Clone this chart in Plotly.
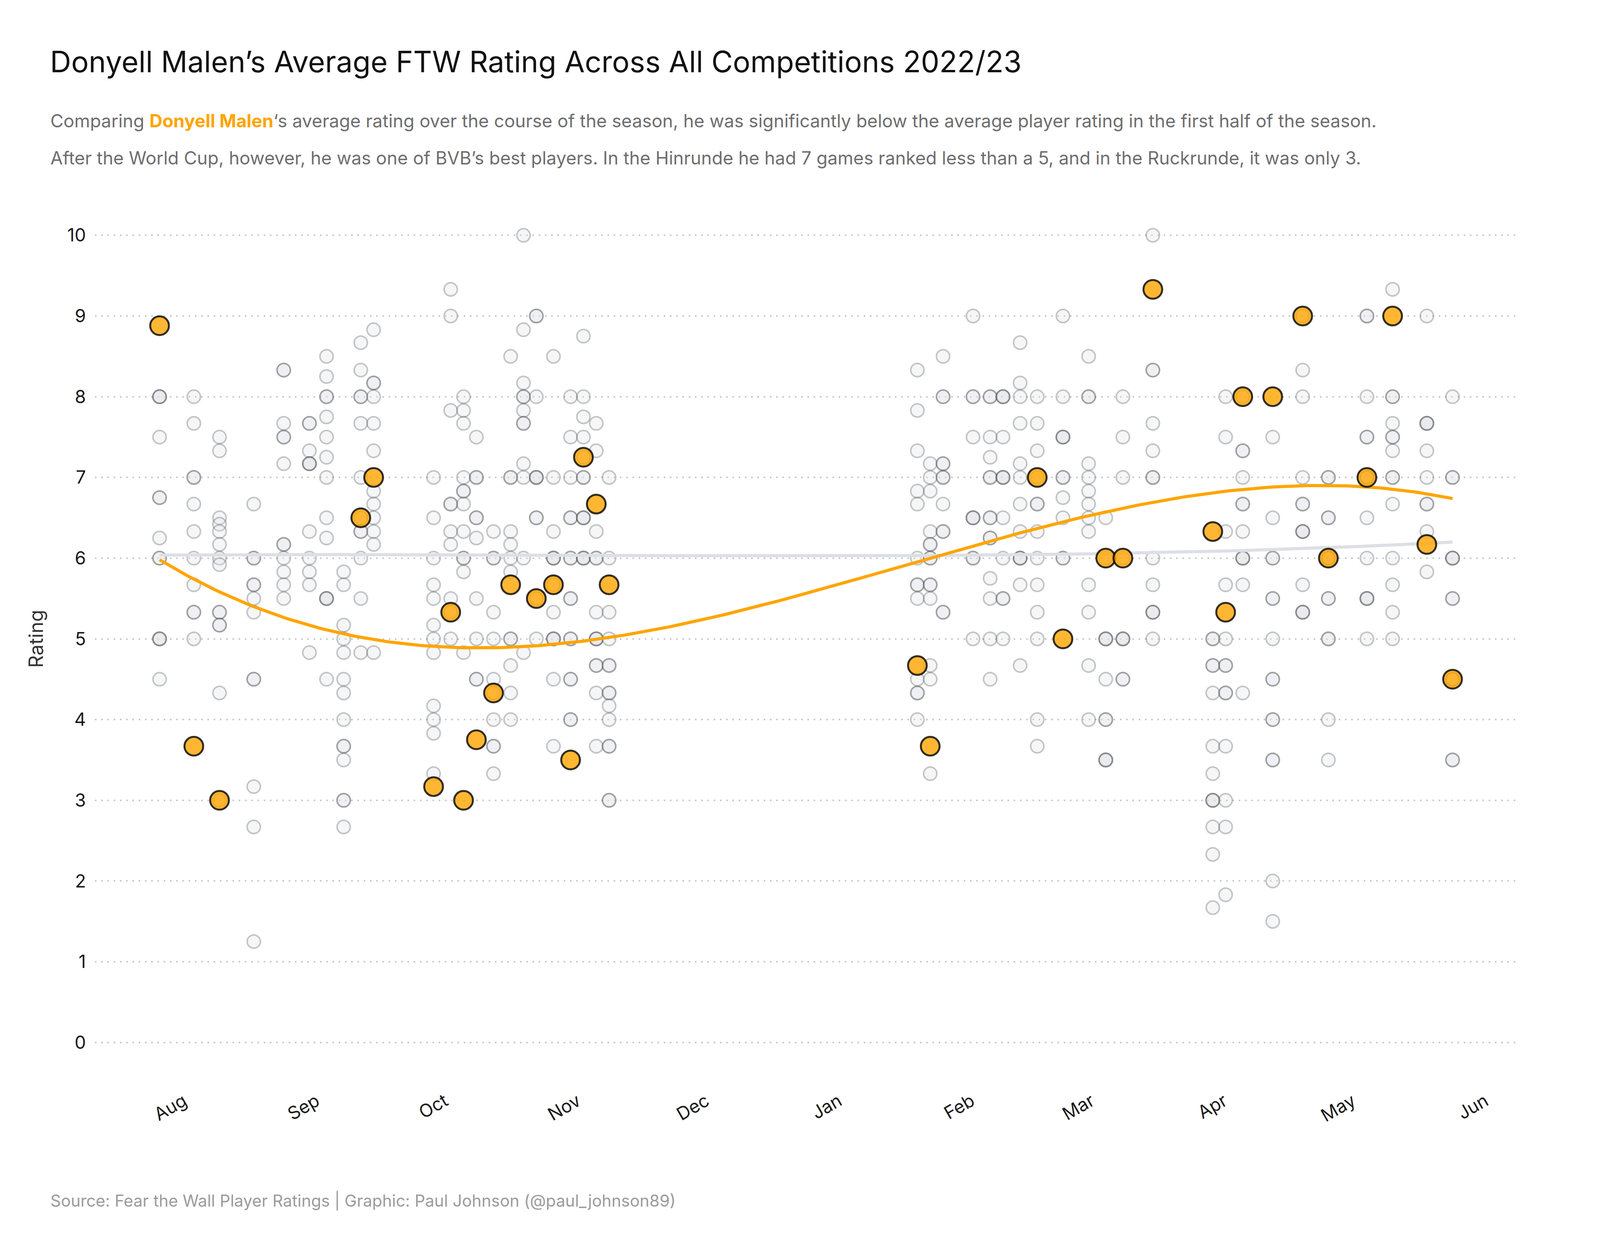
import numpy as np
import pandas as pd
import plotly.graph_objects as go

# match days (every BVB game with ratings), each with the ratings of the other players
match_dates = [
    "2022-07-29", "2022-08-06", "2022-08-12", "2022-08-20", "2022-08-27", "2022-09-02",
    "2022-09-06", "2022-09-10", "2022-09-14", "2022-09-17", "2022-10-01", "2022-10-05",
    "2022-10-08", "2022-10-11", "2022-10-15", "2022-10-19", "2022-10-22", "2022-10-25",
    "2022-10-29", "2022-11-02", "2022-11-05", "2022-11-08", "2022-11-11",
    "2023-01-22", "2023-01-25", "2023-01-28", "2023-02-04", "2023-02-08", "2023-02-11",
    "2023-02-15", "2023-02-19", "2023-02-25", "2023-03-03", "2023-03-07", "2023-03-11",
    "2023-03-18", "2023-04-01", "2023-04-04", "2023-04-08", "2023-04-15", "2023-04-22",
    "2023-04-28", "2023-05-07", "2023-05-13", "2023-05-21", "2023-05-27",
]

player_ratings = [
    [8.0, 8.0, 8.0, 7.5, 6.75, 6.75, 6.25, 6.0, 6.0, 5.0, 5.0, 5.0, 4.5],
    [8.0, 7.67, 7.0, 7.0, 6.67, 6.33, 6.0, 5.67, 5.33, 5.33, 5.0],
    [7.5, 7.33, 6.5, 6.42, 6.33, 6.17, 6.0, 5.92, 5.33, 5.33, 5.17, 5.17, 4.33, 3.0],
    [6.67, 6.0, 6.0, 5.67, 5.67, 5.5, 5.33, 4.5, 4.5, 3.17, 2.67, 1.25],
    [8.33, 8.33, 7.67, 7.5, 7.5, 7.17, 6.17, 6.17, 6.0, 5.83, 5.67, 5.5],
    [7.67, 7.67, 7.33, 7.17, 7.17, 7.17, 6.33, 6.0, 5.83, 5.67, 4.83],
    [8.5, 8.25, 8.0, 8.0, 7.75, 7.5, 7.25, 7.0, 6.5, 6.25, 5.5, 5.5, 5.5, 4.5],
    [5.83, 5.67, 5.17, 5.0, 4.83, 4.5, 4.33, 4.0, 3.67, 3.67, 3.5, 3.0, 3.0, 2.67],
    [8.67, 8.33, 8.0, 8.0, 7.67, 7.0, 6.5, 6.33, 6.33, 6.0, 5.5, 4.83],
    [8.83, 8.17, 8.17, 8.0, 7.67, 7.33, 6.83, 6.67, 6.5, 6.33, 6.17, 4.83],
    [7.0, 6.5, 6.0, 5.67, 5.5, 5.17, 5.0, 4.83, 4.17, 4.0, 3.83, 3.33],
    [9.33, 9.0, 7.83, 6.67, 6.67, 6.33, 6.17, 5.5, 5.33, 5.0],
    [8.0, 7.83, 7.67, 7.0, 6.83, 6.83, 6.67, 6.33, 6.0, 6.0, 5.83, 4.83],
    [7.5, 7.0, 7.0, 6.5, 6.5, 6.25, 5.5, 5.0, 4.5, 4.5],
    [6.33, 6.0, 6.0, 5.33, 5.0, 4.5, 4.33, 4.0, 3.67, 3.67, 3.33],
    [8.5, 7.0, 7.0, 6.33, 6.17, 6.0, 5.83, 5.0, 5.0, 4.67, 4.33, 4.0],
    [10.0, 8.83, 8.17, 8.0, 8.0, 7.83, 7.67, 7.67, 7.17, 7.0, 6.0, 4.83],
    [9.0, 9.0, 8.0, 7.0, 7.0, 7.0, 6.5, 6.5, 5.5, 5.0],
    [8.5, 7.0, 6.33, 6.0, 6.0, 6.0, 5.67, 5.33, 5.0, 5.0, 5.0, 4.5, 3.67],
    [8.0, 7.5, 7.0, 6.5, 6.5, 6.0, 6.0, 5.5, 5.5, 5.0, 5.0, 4.5, 4.5, 4.0, 4.0],
    [8.75, 8.0, 7.75, 7.5, 7.25, 7.0, 7.0, 6.5, 6.5, 6.5, 6.0, 6.0, 6.0],
    [7.67, 7.33, 6.33, 6.0, 6.0, 5.33, 5.0, 5.0, 5.0, 4.67, 4.67, 4.33, 3.67],
    [7.0, 6.0, 5.33, 5.0, 4.67, 4.67, 4.33, 4.33, 4.17, 4.0, 3.67, 3.67, 3.0, 3.0],
    [8.33, 7.83, 7.33, 6.83, 6.67, 6.0, 5.67, 5.67, 5.5, 4.5, 4.33, 4.33, 4.0],
    [7.17, 7.0, 6.83, 6.33, 6.17, 6.17, 6.0, 6.0, 5.67, 5.67, 5.5, 4.67, 4.5, 3.33],
    [8.5, 8.0, 8.0, 7.17, 7.17, 7.0, 7.0, 6.67, 6.33, 6.33, 5.33, 5.33],
    [9.0, 8.0, 8.0, 7.5, 6.5, 6.5, 6.5, 6.0, 6.0, 5.0],
    [8.0, 8.0, 7.5, 7.25, 7.0, 7.0, 6.5, 6.5, 6.25, 6.25, 5.75, 5.5, 5.0, 4.5],
    [8.0, 8.0, 8.0, 7.5, 7.0, 7.0, 7.0, 6.5, 6.0, 5.5, 5.5, 5.0],
    [8.67, 8.17, 8.0, 7.67, 7.17, 7.0, 6.67, 6.33, 6.0, 6.0, 6.0, 5.67, 4.67],
    [8.0, 7.67, 7.33, 7.0, 6.67, 6.67, 6.33, 6.0, 5.67, 5.33, 5.0, 4.0, 3.67],
    [9.0, 8.0, 7.5, 7.5, 7.5, 7.0, 7.0, 6.75, 6.5, 6.0, 6.0],
    [8.5, 8.0, 8.0, 7.17, 7.0, 6.83, 6.67, 6.5, 6.33, 5.67, 5.33, 4.67, 4.0],
    [6.5, 6.0, 5.0, 5.0, 5.0, 4.5, 4.0, 4.0, 3.5, 3.5, 3.5],
    [8.0, 7.5, 7.0, 6.0, 5.0, 5.0, 5.0, 4.5, 4.5],
    [10.0, 8.33, 8.33, 7.67, 7.33, 7.0, 7.0, 6.0, 5.67, 5.33, 5.33, 5.33, 5.0],
    [5.0, 5.0, 4.67, 4.67, 4.33, 3.67, 3.33, 3.0, 3.0, 3.0, 2.67, 2.33, 1.67],
    [8.0, 7.5, 6.33, 5.67, 5.0, 4.67, 4.67, 4.33, 4.33, 3.67, 3.0, 2.67, 1.83],
    [8.0, 7.33, 7.33, 7.0, 6.67, 6.67, 6.33, 6.0, 6.0, 6.0, 5.67, 4.33],
    [7.5, 6.5, 6.0, 6.0, 5.5, 5.5, 5.0, 4.5, 4.5, 4.0, 4.0, 3.5, 3.5, 2.0, 1.5],
    [9.0, 8.33, 8.0, 7.0, 6.67, 6.67, 6.33, 6.33, 6.33, 5.67, 5.33, 5.33, 5.33],
    [7.0, 7.0, 6.5, 6.5, 6.0, 6.0, 5.5, 5.5, 5.0, 5.0, 4.0, 3.5],
    [9.0, 9.0, 8.0, 7.5, 7.5, 7.0, 7.0, 6.5, 6.0, 5.5, 5.5, 5.5, 5.0],
    [9.33, 8.0, 8.0, 7.67, 7.5, 7.5, 7.33, 7.0, 7.0, 6.67, 6.0, 5.67, 5.33, 5.0],
    [9.0, 7.67, 7.67, 7.67, 7.33, 7.0, 6.67, 6.67, 6.33, 5.83],
    [8.0, 7.0, 7.0, 6.0, 6.0, 6.0, 5.5, 5.5, 4.5, 4.5, 3.5, 3.5],
]

# Donyell Malen
malen_dates = [
    "2022-07-29", "2022-08-06", "2022-08-12", "2022-09-14", "2022-09-17", "2022-10-01",
    "2022-10-05", "2022-10-08", "2022-10-11", "2022-10-15", "2022-10-19", "2022-10-25",
    "2022-10-29", "2022-11-02", "2022-11-05", "2022-11-08", "2022-11-11",
    "2023-01-22", "2023-01-25", "2023-02-19", "2023-02-25", "2023-03-07", "2023-03-11",
    "2023-03-18", "2023-04-01", "2023-04-04", "2023-04-08", "2023-04-15", "2023-04-22",
    "2023-04-28", "2023-05-07", "2023-05-13", "2023-05-21", "2023-05-27",
]
malen_ratings = [
    8.88, 3.67, 3.0, 6.5, 7.0, 3.17,
    5.33, 3.0, 3.75, 4.33, 5.67, 5.5,
    5.67, 3.5, 7.25, 6.67, 5.67,
    4.67, 3.67, 7.0, 5.0, 6.0, 6.0,
    9.33, 6.33, 5.33, 8.0, 8.0, 9.0,
    6.0, 7.0, 9.0, 6.17, 4.5,
]

df = pd.DataFrame({
    "date": [d for d, r in zip(match_dates, player_ratings) for _ in r],
    "rating": [v for r in player_ratings for v in r],
})
df["date"] = pd.to_datetime(df["date"])
malen = pd.DataFrame({"date": pd.to_datetime(malen_dates), "rating": malen_ratings})

t0 = df["date"].min()
t1 = df["date"].max()
grid = pd.date_range(t0, t1, freq="D")
grid_days = (grid - t0).days.values


def cubic_trend(dates, values):
    # smooth line: least squares fit of y ~ poly(x, 3)
    days = (dates - t0).dt.days.values
    coef = np.polyfit(days, values, 3)
    return np.polyval(coef, grid_days)


all_df = pd.concat([df, malen])
avg_fit = cubic_trend(all_df["date"], all_df["rating"].values)
malen_fit = cubic_trend(malen["date"], malen["rating"].values)

fig = go.Figure()

fig.add_trace(go.Scatter(
    x=df["date"], y=df["rating"], mode="markers",
    marker=dict(size=34, color="rgba(222,226,231,0.3)",
                line=dict(width=4, color="rgba(51,51,51,0.27)")),
    hoverinfo="skip",
))
fig.add_trace(go.Scatter(
    x=grid, y=avg_fit, mode="lines",
    line=dict(color="#dcdfe4", width=8),
    hoverinfo="skip",
))
fig.add_trace(go.Scatter(
    x=grid, y=malen_fit, mode="lines",
    line=dict(color="#FFA500", width=8),
    hoverinfo="skip",
))
fig.add_trace(go.Scatter(
    x=malen["date"], y=malen["rating"], mode="markers",
    marker=dict(size=48, color="rgba(255,165,0,0.8)",
                line=dict(width=5, color="rgba(0,0,0,0.8)")),
))

pad = pd.Timedelta(days=(t1 - t0).days * 0.05)

# the page is photographed in a 4096 px wide window (8 px body margin)
W, H = 4080, 3184
ml, mr, mt, mb = 235, 204, 491, 420
pw, ph = W - ml - mr, H - mt - mb


def px_x(x):
    return (x - ml) / pw


def px_y(y):
    return (H - mb - y) / ph


fig.update_layout(
    width=W, height=H,
    margin=dict(l=ml, r=mr, t=mt, b=mb),
    plot_bgcolor="white", paper_bgcolor="white",
    showlegend=False,
    font=dict(family="Inter", color="#1a1a1a"),
    xaxis=dict(
        type="date",
        range=[t0 - pad, t1 + pad],
        tick0="2022-08-01", dtick="M1", tickformat="%b",
        tickangle=-30, ticklabelshift=29, ticklabelstandoff=11,
        tickfont=dict(size=46, color="#1a1a1a"),
        showgrid=False, zeroline=False, showline=False, ticks="",
    ),
    yaxis=dict(
        range=[-0.5, 10.5], tick0=0, dtick=1,
        showgrid=True, gridcolor="#c8c8c8", gridwidth=4, griddash="4px,12px",
        zeroline=False, showline=False, ticks="",
        ticklabelstandoff=22,
        tickfont=dict(size=46, color="#1a1a1a"),
        title=dict(text="Rating", font=dict(size=50, color="#333333"), standoff=45),
    ),
)

fig.add_annotation(
    text="Donyell Malen’s Average FTW Rating Across All Competitions 2022/23",
    xref="paper", yref="paper", x=px_x(118), y=px_y(149),
    xanchor="left", yanchor="middle", showarrow=False,
    font=dict(size=75, color="#111111"),
)
fig.add_annotation(
    text="Comparing <b><span style='color:#FFA500'>Donyell Malen</span></b>‘s average rating over the course of the season, "
         "he was significantly below the average player rating in the first half of the season.",
    xref="paper", yref="paper", x=px_x(119), y=px_y(301),
    xanchor="left", yanchor="middle", showarrow=False,
    font=dict(size=46, color="#6e6e6e"),
)
fig.add_annotation(
    text="After the World Cup, however, he was one of BVB’s best players. In the Hinrunde he had 7 games "
         "ranked less than a 5, and in the Ruckrunde, it was only 3.",
    xref="paper", yref="paper", x=px_x(119), y=px_y(396),
    xanchor="left", yanchor="middle", showarrow=False,
    font=dict(size=46, color="#6e6e6e"),
)
fig.add_annotation(
    text="Source: Fear the Wall Player Ratings | Graphic: Paul Johnson (@paul_johnson89)",
    xref="paper", yref="paper", x=px_x(119), y=px_y(3065),
    xanchor="left", yanchor="middle", showarrow=False,
    font=dict(size=42, color="#9b9b9b"),
)

fig.write_html("out.html")
